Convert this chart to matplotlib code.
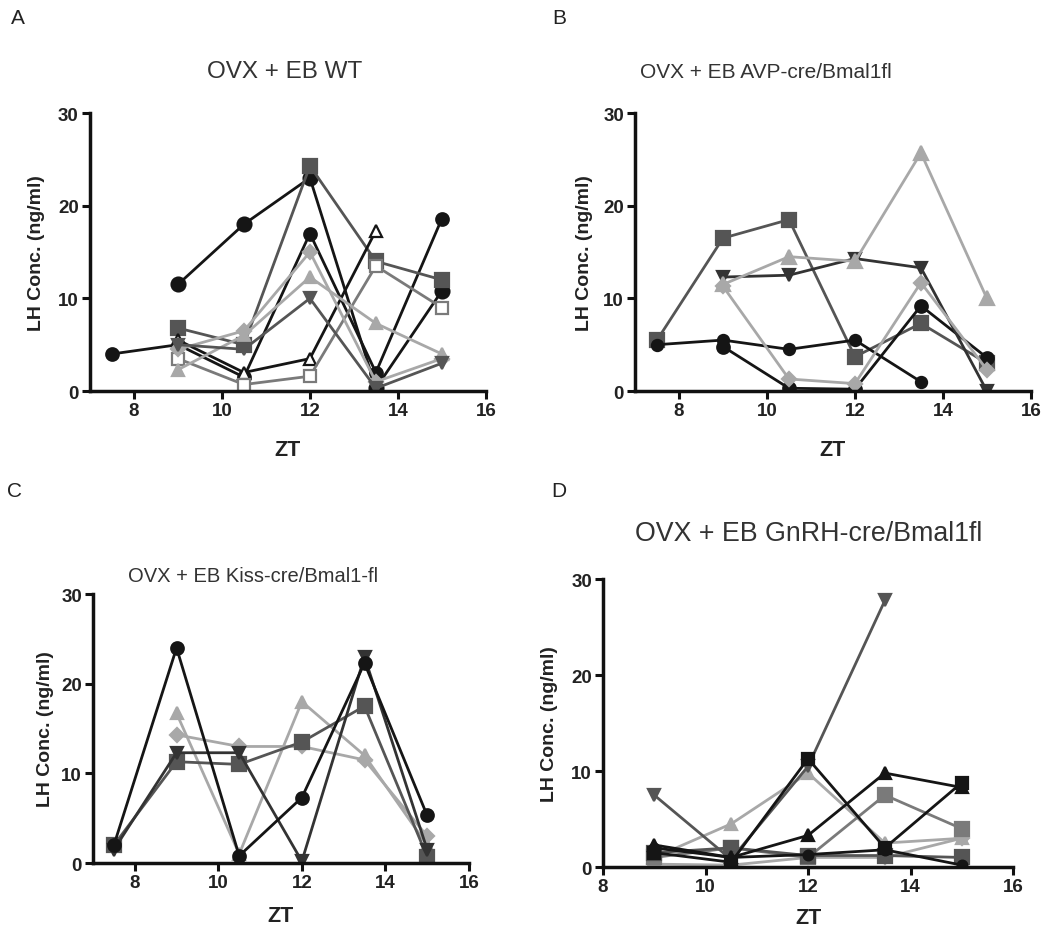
import matplotlib.pyplot as plt

plt.rcParams['font.family'] = ['Liberation Sans', 'DejaVu Sans']

zt = [7.5, 9, 10.5, 12, 13.5, 15]
zt_d = [9, 10.5, 12, 13.5, 15]

# panel A - OVX + EB WT
a_black_circ1 = [4, 5, 1.5, 17, 2, 18.6]
a_black_circ2 = [None, 11.5, 18, 23, 0.3, 10.8]
a_dgrey_sq = [None, 6.8, 5, 24.3, 14, 12]
a_open_tri = [None, 5.5, 2, 3.5, 17.3, None]
a_open_sq = [None, 3.5, 0.7, 1.6, 13.5, 9]
a_lgrey_dia = [None, 4.5, 6.5, 15, 1, 3.5]
a_grey_tri = [None, 2.3, 6, 12.3, 7.3, 4]
a_dgrey_inv = [None, 5, 4.5, 10, 0.3, 3]

# panel B - AVP-cre
b_dgrey_sq = [5.5, 16.5, 18.5, 3.7, 7.3, 3]
b_black_circ1 = [5, 5.5, 4.5, 5.5, 1, None]
b_black_circ2 = [None, 4.8, 0.3, 0.2, 9.2, 3.6]
b_dark_inv = [None, 12.3, 12.5, 14.3, 13.3, 0]
b_lgrey_tri = [None, 11.5, 14.5, 14, 25.7, 10]
b_lgrey_dia = [None, 11.3, 1.3, 0.8, 11.7, 2.3]

# panel C - Kiss-cre
c_black_circ = [2, 24, 0.8, 7.3, 22.3, 5.3]
c_lgrey_tri = [None, 16.7, 1, 18, 12, 2]
c_lgrey_dia = [None, 14.3, 13, 13, 11.5, 3]
c_dgrey_inv = [1.5, 12.3, 12.3, 0.2, 23, 1.5]
c_dgrey_sq = [2, 11.3, 11, 13.5, 17.5, 0.7]

# panel D - GnRH-cre
d_dgrey_inv = [7.5, 0.8, 10.5, 27.8, None]
d_black_sq = [1.5, 0.5, 11.3, 2, 8.8]
d_black_tri = [2.3, 1, 3.3, 9.8, 8.3]
d_grey_sq = [1, 2, 1, 7.5, 4]
d_lgrey_tri = [1, 4.5, 9.8, 2.5, 3]
d_dgrey_sq = [1.5, 2, 1.2, 1.2, 1]
d_black_circ = [2, 1, 1.3, 1.8, 0.2]
d_lgrey_dia = [0.3, 0.2, 1, 1, 3]

BLK = '#151515'
DGR = '#555555'
GR = '#7a7a7a'
LGR = '#a8a8a8'


def draw(ax, xs, ys, color, marker, open_=False, ms=9):
    px = [x for x, y in zip(xs, ys) if y is not None]
    py = [y for y in ys if y is not None]
    ax.plot(px, py, color=color, lw=2, marker=marker, ms=ms,
            mfc='white' if open_ else color, mec=color, mew=1.6)


def style(ax, xlim, ylab_x, xlab_y):
    ax.set_xlim(*xlim)
    ax.set_ylim(0, 30)
    ax.set_xticks([8, 10, 12, 14, 16])
    ax.set_yticks([0, 10, 20, 30])
    for s in ['top', 'right']:
        ax.spines[s].set_visible(False)
    for s in ['left', 'bottom']:
        ax.spines[s].set_linewidth(2.5)
        ax.spines[s].set_color('#111111')
    ax.tick_params(width=2.2, length=6, color='#111111', labelsize=13.5, pad=2)
    for lab in ax.get_xticklabels() + ax.get_yticklabels():
        lab.set_fontweight('bold')
        lab.set_color('#222222')
    ax.set_xlabel('ZT', fontsize=15.5, fontweight='bold', color='#222222')
    ax.set_ylabel('LH Conc. (ng/ml)', fontsize=14, fontweight='bold', color='#222222')
    ax.xaxis.set_label_coords(0.5, xlab_y)
    ax.yaxis.set_label_coords(ylab_x, 0.5)


fig = plt.figure(figsize=(10.5, 9.37), dpi=100)

axA = fig.add_axes([0.0857, 0.5816, 0.377, 0.2967])
axB = fig.add_axes([0.6048, 0.5816, 0.377, 0.2967])
axC = fig.add_axes([0.0886, 0.0779, 0.358, 0.287])
axD = fig.add_axes([0.5743, 0.0736, 0.3905, 0.307])

draw(axA, zt, a_black_circ1, BLK, 'o')
draw(axA, zt, a_black_circ2, BLK, 'o', ms=10)
draw(axA, zt, a_dgrey_sq, DGR, 's', ms=10)
draw(axA, zt, a_open_tri, BLK, '^', open_=True)
draw(axA, zt, a_open_sq, GR, 's', open_=True, ms=8)
draw(axA, zt, a_lgrey_dia, LGR, 'D', ms=7)
draw(axA, zt, a_grey_tri, LGR, '^')
draw(axA, zt, a_dgrey_inv, DGR, 'v')

draw(axB, zt, b_dgrey_sq, DGR, 's', ms=10)
draw(axB, zt, b_black_circ1, BLK, 'o', ms=8)
draw(axB, zt, b_black_circ2, BLK, 'o', ms=9)
draw(axB, zt, b_dark_inv, '#333333', 'v')
draw(axB, zt, b_lgrey_tri, LGR, '^', ms=10)
draw(axB, zt, b_lgrey_dia, LGR, 'D', ms=7)

draw(axC, zt, c_lgrey_tri, LGR, '^')
draw(axC, zt, c_lgrey_dia, LGR, 'D', ms=7)
draw(axC, zt, c_dgrey_sq, DGR, 's', ms=10)
draw(axC, zt, c_dgrey_inv, '#333333', 'v')
draw(axC, zt, c_black_circ, BLK, 'o')

draw(axD, zt_d, d_lgrey_dia, LGR, 'D', ms=7)
draw(axD, zt_d, d_lgrey_tri, LGR, '^')
draw(axD, zt_d, d_grey_sq, GR, 's', ms=10)
draw(axD, zt_d, d_dgrey_sq, DGR, 's', ms=10)
draw(axD, zt_d, d_black_circ, BLK, 'o', ms=7)
draw(axD, zt_d, d_dgrey_inv, DGR, 'v')
draw(axD, zt_d, d_black_tri, BLK, '^')
draw(axD, zt_d, d_black_sq, BLK, 's', ms=8)

style(axA, (7, 16), -0.114, -0.173)
style(axB, (7, 16), -0.106, -0.173)
style(axC, (7, 16), -0.103, -0.156)
style(axD, (8, 16), -0.110, -0.139)

W, H = 1050, 937
def ftext(x, y, s, **kw):
    fig.text(x / W, 1 - y / H, s, ha='center', va='center', **kw)

ftext(18, 18, 'A', fontsize=15, color='#222222')
ftext(559, 18, 'B', fontsize=15, color='#222222')
ftext(15, 492, 'C', fontsize=15, color='#222222')
ftext(559, 492, 'D', fontsize=15, color='#222222')

ftext(285, 72, 'OVX + EB WT', fontsize=17.5, color='#333333')
ftext(766, 72, 'OVX + EB AVP-cre/Bmal1fl', fontsize=15, color='#333333')
ftext(253, 577, 'OVX + EB Kiss-cre/Bmal1-fl', fontsize=14.5, color='#333333')
ftext(809, 534, 'OVX + EB GnRH-cre/Bmal1fl', fontsize=19.3, color='#333333')

fig.savefig('out.png', dpi=100)
